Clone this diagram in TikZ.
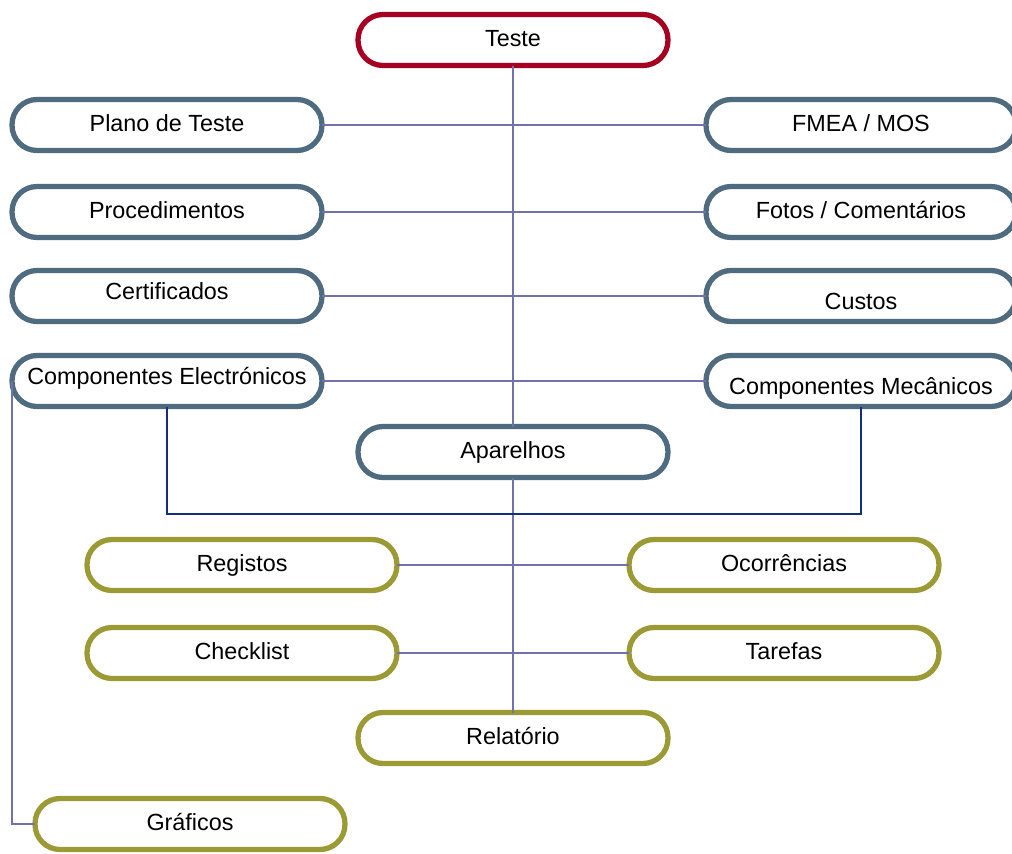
\documentclass[tikz,border=0pt]{standalone}
\usepackage{fontspec}
\setmainfont{Liberation Sans}
\usepackage{tikz}

\definecolor{testered}{HTML}{A50021}
\definecolor{slateblue}{HTML}{4E6B80}
\definecolor{olive}{HTML}{9C9A35}
\definecolor{linkpurple}{HTML}{7272AA}
\definecolor{linknavy}{HTML}{14307A}

\begin{document}
\begin{tikzpicture}[x=0.02cm,y=-0.02cm,every node/.style={shape=rectangle,align=center,font=\fontsize{13.3}{16}\selectfont},
  box/.style={draw,fill=white,line width=3pt,rounded corners=0.5cm,minimum width=6.2cm,minimum height=1.02cm,inner sep=0pt,outer sep=0pt,text height=0.36cm,text depth=0.12cm},
  topbox/.style={box,draw=testered},
  midbox/.style={box,draw=slateblue},
  lowbox/.style={box,draw=olive},
  textdown/.style={text height=0.66cm},
  textup/.style={text depth=0.22cm},
  link/.style={draw=linkpurple,line width=1.1pt},
  bracket/.style={draw=linknavy,line width=1.1pt}]
      \useasboundingbox (0,0) rectangle (1012,853);
      \coordinate (brk) at (513,514);
      \node[topbox] (teste) at (513,40) {Teste};
      \node[midbox] (plano) at (167,125) {Plano de Teste};
      \node[midbox] (fmea) at (861,125) {FMEA / MOS};
      \node[midbox] (proced) at (167,212) {Procedimentos};
      \node[midbox] (fotos) at (861,212) {Fotos / Comentários};
      \node[midbox,textup] (certif) at (167,296) {Certificados};
      \node[midbox,textdown] (custos) at (861,296) {Custos};
      \node[midbox,textup] (compE) at (167,381) {Componentes Electrónicos};
      \node[midbox,textdown] (compM) at (861,381) {Componentes Mecânicos};
      \node[midbox] (apar) at (513,452) {Aparelhos};
      \node[lowbox] (regis) at (242,565) {Registos};
      \node[lowbox] (ocorr) at (784,565) {Ocorrências};
      \node[lowbox] (check) at (242,653) {Checklist};
      \node[lowbox] (taref) at (784,653) {Tarefas};
      \node[lowbox] (relat) at (513,738) {Relatório};
      \node[lowbox] (graf) at (190,824) {Gráficos};
      % connectors between the boxes
      \path[link] (teste.south) -- (apar.north);
      \path[link] (apar.south) -- (relat.north);
      \path[link] (plano.east) -- (fmea.west);
      \path[link] (proced.east) -- (fotos.west);
      \path[link] (certif.east) -- (custos.west);
      \path[link] (compE.east) -- (compM.west);
      \path[link] (regis.east) -- (ocorr.west);
      \path[link] (check.east) -- (taref.west);
      \path[link] (compE.west) |- (graf.west);
      \path[bracket] (compE.south) |- (brk) -| (compM.south);
\end{tikzpicture}
\end{document}
